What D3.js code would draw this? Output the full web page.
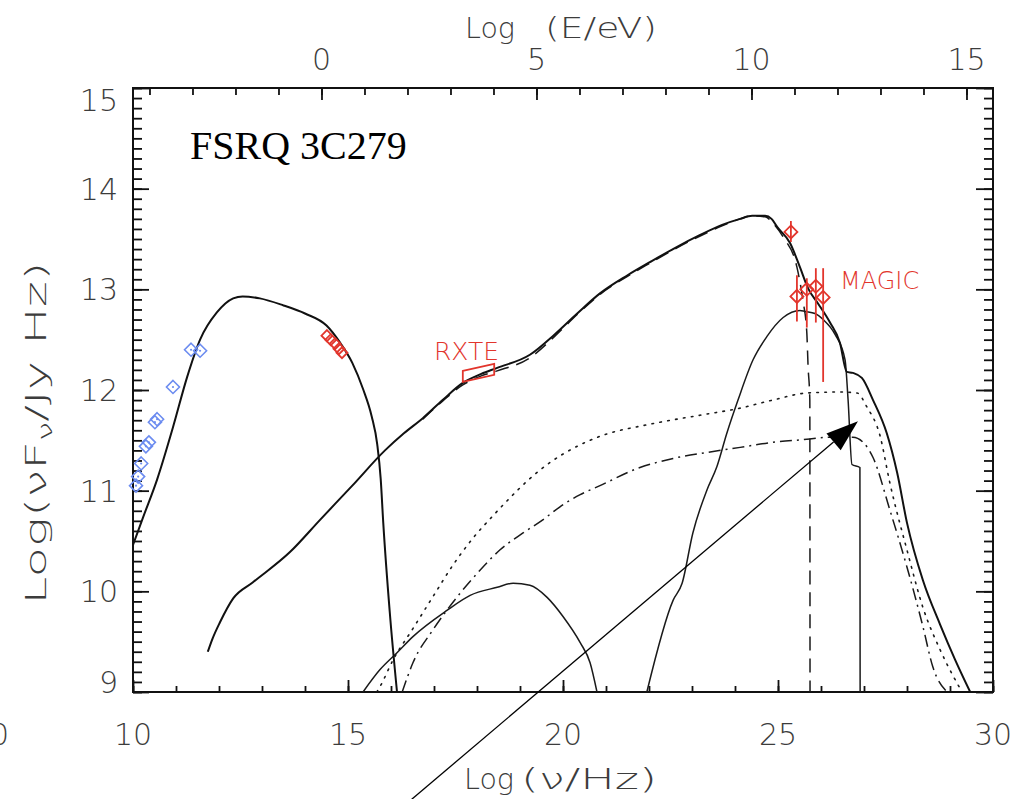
<!DOCTYPE html>
<html>
<head>
<meta charset="utf-8">
<script src="https://cdn.jsdelivr.net/npm/d3@7"></script>
<style>
  html, body { margin: 0; padding: 0; background: #fff; }
  svg { display: block; }
</style>
</head>
<body>
<svg id="chart" width="1018" height="799"></svg>
<script>
// SED of the flat-spectrum radio quasar 3C 279: log(nu F_nu) against log(nu)

// ---- tick labels ----
const nuTickLabels = [10, 15, 20, 25, 30];
const energyTickLabels = [0, 5, 10, 15];
const fluxTickLabels = [9, 10, 11, 12, 13, 14, 15];

// ---- observations ----
// radio / mm (blue)
const radioNu   = [11.35, 11.56, 10.93, 10.56, 10.51, 10.37, 10.30, 10.19, 10.12, 10.07];
const radioFlux = [12.40, 12.39, 12.03, 11.71, 11.68, 11.48, 11.44, 11.27, 11.14, 11.05];
// optical (red)
const opticalNu   = [14.51, 14.60, 14.70, 14.79, 14.86];
const opticalFlux = [12.54, 12.50, 12.46, 12.41, 12.37];
// RXTE bow-tie: edges at two frequencies
const rxteNu   = [17.67, 18.40];
const rxteLow  = [12.08, 12.15];
const rxteHigh = [12.19, 12.26];
// GeV point
const gevNu = [25.30], gevFlux = [13.57], gevHi = [13.68], gevLo = [13.47];
// MAGIC
const magicNu   = [25.44, 25.67, 25.88, 26.05];
const magicFlux = [12.93, 13.00, 13.03, 12.92];
const magicHi   = [13.14, 13.11, 13.21, 13.21];
const magicLo   = [12.68, 12.62, 12.67, 12.08];

// ---- model components [log nu, log nuFnu] ----
const synchrotron = [
  [10.0, 10.46], [10.23, 10.73], [10.56, 11.11], [10.93, 11.63], [11.26, 12.13],
  [11.56, 12.50], [11.95, 12.77], [12.33, 12.91], [12.55, 12.93], [12.95, 12.91],
  [13.5, 12.84], [14.0, 12.76], [14.5, 12.64], [14.8, 12.48], [15.1, 12.27],
  [15.35, 12.01], [15.55, 11.74], [15.68, 11.46], [15.76, 11.12], [15.82, 10.68],
  [15.97, 9.80], [16.14, 9.0]
];
const total = [
  [11.74, 9.40], [11.85, 9.53], [12.02, 9.69], [12.33, 9.93], [12.79, 10.09],
  [13.65, 10.39], [14.35, 10.71], [15.1, 11.05], [15.86, 11.40], [16.3, 11.57],
  [16.74, 11.72], [17.2, 11.90], [17.67, 12.07], [18.1, 12.16], [18.47, 12.22],
  [19.23, 12.35], [19.8, 12.55], [20.33, 12.76], [20.86, 12.96], [21.5, 13.14],
  [22.02, 13.27], [22.6, 13.41], [23.19, 13.54], [23.7, 13.64], [24.12, 13.70],
  [24.4, 13.73], [24.7, 13.73], [24.85, 13.70], [24.98, 13.62], [25.28, 13.46],
  [25.51, 13.22], [25.70, 13.01], [25.93, 12.86], [26.21, 12.67], [26.44, 12.47],
  [26.60, 12.18], [26.74, 12.17], [26.95, 12.12], [27.21, 11.90], [27.53, 11.57],
  [27.77, 11.18], [28.00, 10.68], [28.37, 10.11], [28.77, 9.67], [29.12, 9.32],
  [29.47, 9.0]
];
const externalCompton = [
  [16.74, 11.71], [17.2, 11.89], [17.67, 12.05], [18.1, 12.14], [18.47, 12.19],
  [19.23, 12.32], [19.8, 12.53], [20.33, 12.75], [20.86, 12.95], [21.5, 13.13],
  [22.02, 13.26], [22.6, 13.40], [23.19, 13.53], [23.7, 13.63], [24.12, 13.70],
  [24.4, 13.73], [24.7, 13.72], [24.9, 13.65], [25.12, 13.52], [25.44, 13.22],
  [25.58, 12.89], [25.67, 12.57], [25.70, 12.23], [25.74, 11.90], [25.745, 9.0]
];
const dottedComponent = [
  [15.67, 9.0], [15.74, 9.05], [16.05, 9.32], [16.51, 9.63], [16.98, 9.95],
  [17.44, 10.26], [17.91, 10.53], [18.37, 10.75], [18.77, 10.93], [19.23, 11.12],
  [19.70, 11.28], [20.28, 11.43], [20.86, 11.54], [22.02, 11.66], [23.19, 11.75],
  [24.12, 11.82], [24.88, 11.90], [25.67, 11.97], [26.44, 11.98], [26.84, 11.97],
  [27.07, 11.83], [27.37, 11.55], [27.60, 11.08], [28.00, 10.41], [28.37, 9.84],
  [28.77, 9.42], [29.28, 9.0]
];
const dashDotComponent = [
  [16.26, 9.0], [16.51, 9.29], [16.98, 9.62], [17.53, 9.94], [18.07, 10.21],
  [18.53, 10.41], [19.07, 10.58], [19.53, 10.71], [19.93, 10.84], [20.40, 10.96],
  [20.86, 11.05], [21.79, 11.23], [22.56, 11.32], [23.35, 11.38], [24.12, 11.43],
  [24.88, 11.48], [25.67, 11.51], [26.14, 11.53], [26.74, 11.53], [26.98, 11.48],
  [27.21, 11.33], [27.60, 10.81], [28.00, 10.24], [28.37, 9.65], [28.60, 9.25],
  [28.93, 9.0]
];
const xrayHump = [
  [15.35, 9.0], [15.74, 9.22], [16.14, 9.39], [16.51, 9.55], [17.30, 9.81],
  [17.84, 9.96], [18.47, 10.04], [18.84, 10.08], [19.23, 10.06], [19.63, 9.94],
  [20.0, 9.75], [20.40, 9.49], [20.63, 9.29], [20.79, 9.0]
];
const gammaHump = [
  [21.95, 9.0], [22.56, 9.91], [22.77, 10.08], [23.02, 10.58], [23.35, 11.01],
  [23.58, 11.24], [23.81, 11.57], [24.07, 11.90], [24.42, 12.30], [24.74, 12.53],
  [25.12, 12.72], [25.51, 12.79], [25.63, 12.78], [25.86, 12.76], [26.05, 12.70],
  [26.33, 12.55], [26.56, 12.30], [26.63, 11.90], [26.72, 11.26], [26.905, 11.23],
  [26.91, 9.0]
];
// annotation arrow (tail, head) in data units
const arrowTail = [16.47, 7.93];
const arrowHead = [26.86, 11.69];

// ---- layout ----
const plot = { left: 133, right: 993, top: 88, bottom: 692 };
const LOG_EV_HZ = 14.3834;   // log10 of 1 eV / h in Hz

const svg = d3.select("#chart");
const x = d3.scaleLinear().domain([10, 30]).range([plot.left, plot.right]);
const xE = d3.scaleLinear().domain([10 - LOG_EV_HZ, 30 - LOG_EV_HZ]).range([plot.left, plot.right]);
const y = d3.scaleLinear().domain([9, 15]).range([plot.bottom, plot.top]);

const labelFont = "'DejaVu Sans', sans-serif";
const labelColor = "#3c3c3c";
const red = "#e2352c";
const blue = "#6c8cf0";

svg.append("defs").append("clipPath").attr("id", "plotClip")
  .append("rect")
  .attr("x", plot.left).attr("y", plot.top)
  .attr("width", plot.right - plot.left).attr("height", plot.bottom - plot.top);

// ---- axes (ticks point inward) ----
function styleAxis(g) {
  g.select(".domain").remove();
  g.selectAll(".tick line").attr("stroke", "#111").attr("stroke-width", 1.8);
  g.selectAll(".tick text").remove();
}
const range = (a, b, s) => d3.range(a, b + s / 2, s);

svg.append("g").attr("transform", `translate(0,${plot.bottom})`)
  .call(d3.axisBottom(x).tickValues(range(10, 30, 1)).tickSize(-6)).call(styleAxis);
svg.append("g").attr("transform", `translate(0,${plot.bottom})`)
  .call(d3.axisBottom(x).tickValues(nuTickLabels).tickSize(-12)).call(styleAxis);

svg.append("g").attr("transform", `translate(0,${plot.top})`)
  .call(d3.axisTop(xE).tickValues(range(-4, 15, 1)).tickSize(-7)).call(styleAxis);
svg.append("g").attr("transform", `translate(0,${plot.top})`)
  .call(d3.axisTop(xE).tickValues(energyTickLabels).tickSize(-12)).call(styleAxis);

svg.append("g").attr("transform", `translate(${plot.left},0)`)
  .call(d3.axisLeft(y).tickValues(range(9, 15, 0.1)).tickSize(-9)).call(styleAxis);
svg.append("g").attr("transform", `translate(${plot.left},0)`)
  .call(d3.axisLeft(y).tickValues(fluxTickLabels).tickSize(-16)).call(styleAxis);
svg.append("g").attr("transform", `translate(${plot.right},0)`)
  .call(d3.axisRight(y).tickValues(range(9, 15, 0.1)).tickSize(-9)).call(styleAxis);
svg.append("g").attr("transform", `translate(${plot.right},0)`)
  .call(d3.axisRight(y).tickValues(fluxTickLabels).tickSize(-17)).call(styleAxis);

svg.append("rect")
  .attr("x", plot.left).attr("y", plot.top)
  .attr("width", plot.right - plot.left).attr("height", plot.bottom - plot.top)
  .attr("fill", "none").attr("stroke", "#111").attr("stroke-width", 2);

// ---- tick labels ----
const tickText = (sel) => sel.attr("font-family", labelFont).attr("font-size", 30)
  .attr("font-weight", 200).attr("fill", labelColor);

svg.append("g").selectAll("text").data(nuTickLabels).join("text")
  .attr("x", d => x(d)).attr("y", 745).attr("text-anchor", "middle")
  .text(d => d).call(tickText);

svg.append("g").selectAll("text").data(energyTickLabels).join("text")
  .attr("x", d => xE(d)).attr("y", 70).attr("text-anchor", "middle")
  .text(d => d).call(tickText);

const yMin = d3.min(fluxTickLabels), yMax = d3.max(fluxTickLabels);
svg.append("g").selectAll("text").data(fluxTickLabels).join("text")
  .attr("x", 118)
  .attr("y", d => y(d) + 11 + (d === yMax ? 12 : d === yMin ? -10 : 0))
  .attr("text-anchor", "end")
  .text(d => d).call(tickText);

// stray label at the far left edge (the neighbouring panel's last x label)
svg.append("text").attr("x", -10).attr("y", 745).text("0").call(tickText);

// ---- axis titles ----
const titleText = (sel) => sel.attr("font-family", labelFont).attr("font-size", 29)
  .attr("font-weight", 200).attr("fill", labelColor);

svg.append("text").attr("x", 465).attr("y", 38).text("Log")
  .attr("textLength", 50).attr("lengthAdjust", "spacingAndGlyphs").call(titleText);
svg.append("text").attr("x", 545).attr("y", 38).text("(E/eV)")
  .attr("textLength", 112).attr("lengthAdjust", "spacingAndGlyphs").call(titleText);

svg.append("text").attr("x", 464).attr("y", 789).text("Log")
  .attr("textLength", 50).attr("lengthAdjust", "spacingAndGlyphs").call(titleText);
svg.append("text").attr("x", 521).attr("y", 789).text("(ν/Hz)")
  .attr("textLength", 136).attr("lengthAdjust", "spacingAndGlyphs").call(titleText);

const yTitle = svg.append("text")
  .attr("transform", "translate(46,433) rotate(-90)")
  .attr("text-anchor", "middle")
  .attr("textLength", 343).attr("lengthAdjust", "spacingAndGlyphs")
  .call(titleText);
yTitle.append("tspan").text("Log(νF");
yTitle.append("tspan").attr("font-size", 20).attr("dy", 6).text("ν");
yTitle.append("tspan").attr("dy", -6).text("/Jy Hz)");

// source name
svg.append("text").attr("x", 190).attr("y", 159)
  .attr("font-family", "'Liberation Serif', 'Times New Roman', serif")
  .attr("font-size", 40).attr("fill", "#000").text("FSRQ 3C279");

// ---- model curves ----
const line = d3.line().x(d => x(d[0])).y(d => y(d[1])).curve(d3.curveMonotoneX);
const curves = svg.append("g").attr("clip-path", "url(#plotClip)").attr("fill", "none");

curves.append("path").datum(xrayHump).attr("d", line)
  .attr("stroke", "#1a1a1a").attr("stroke-width", 1.5);
curves.append("path").datum(gammaHump).attr("d", line)
  .attr("stroke", "#1a1a1a").attr("stroke-width", 1.5);
curves.append("path").datum(dottedComponent).attr("d", line)
  .attr("stroke", "#1a1a1a").attr("stroke-width", 1.6)
  .attr("stroke-dasharray", "1.6 6.4").attr("stroke-linecap", "round");
curves.append("path").datum(dashDotComponent).attr("d", line)
  .attr("stroke", "#1a1a1a").attr("stroke-width", 1.5)
  .attr("stroke-dasharray", "12 5 2 5");
curves.append("path").datum(externalCompton).attr("d", line)
  .attr("stroke", "#1a1a1a").attr("stroke-width", 1.5)
  .attr("stroke-dasharray", "14 8");
curves.append("path").datum(synchrotron).attr("d", line)
  .attr("stroke", "#111").attr("stroke-width", 2);
curves.append("path").datum(total).attr("d", line)
  .attr("stroke", "#111").attr("stroke-width", 2);

// ---- data points ----
const diamond = (cx, cy, r) => `M${cx},${cy - r}L${cx + r},${cy}L${cx},${cy + r}L${cx - r},${cy}Z`;
const pts = svg.append("g").attr("fill", "none");

const radio = radioNu.map((n, i) => [n, radioFlux[i]]);
pts.selectAll(".radio").data(radio).join("path").attr("class", "radio")
  .attr("d", d => diamond(x(d[0]), y(d[1]), 6.5))
  .attr("stroke", blue).attr("stroke-width", 1.6);
pts.selectAll(".radiodot").data(radio).join("circle").attr("class", "radiodot")
  .attr("cx", d => x(d[0])).attr("cy", d => y(d[1])).attr("r", 1.1).attr("fill", blue);

const optical = opticalNu.map((n, i) => [n, opticalFlux[i]]);
pts.selectAll(".opt").data(optical).join("path").attr("class", "opt")
  .attr("d", d => diamond(x(d[0]), y(d[1]), 5.5))
  .attr("stroke", red).attr("stroke-width", 1.8);

pts.append("path")
  .attr("d", `M${x(rxteNu[0])},${y(rxteHigh[0])}L${x(rxteNu[1])},${y(rxteHigh[1])}` +
             `L${x(rxteNu[1])},${y(rxteLow[1])}L${x(rxteNu[0])},${y(rxteLow[0])}Z`)
  .attr("stroke", red).attr("stroke-width", 1.8);

const gamma = gevNu.map((n, i) => ({ nu: n, f: gevFlux[i], hi: gevHi[i], lo: gevLo[i] }))
  .concat(magicNu.map((n, i) => ({ nu: n, f: magicFlux[i], hi: magicHi[i], lo: magicLo[i] })));
pts.selectAll(".err").data(gamma).join("line").attr("class", "err")
  .attr("x1", d => x(d.nu)).attr("x2", d => x(d.nu))
  .attr("y1", d => y(d.hi)).attr("y2", d => y(d.lo))
  .attr("stroke", red).attr("stroke-width", 1.8);
pts.selectAll(".gam").data(gamma).join("path").attr("class", "gam")
  .attr("d", d => diamond(x(d.nu), y(d.f), 6.5))
  .attr("stroke", red).attr("stroke-width", 1.8);

// instrument labels
svg.append("text").attr("x", 434).attr("y", 360).text("RXTE")
  .attr("font-family", labelFont).attr("font-size", 25).attr("font-weight", 200).attr("fill", red);
svg.append("text").attr("x", 840).attr("y", 289).text("MAGIC")
  .attr("font-family", labelFont).attr("font-size", 24).attr("font-weight", 200).attr("fill", red);

// ---- annotation arrow ----
const tx = x(arrowTail[0]), ty = y(arrowTail[1]);
const hx = x(arrowHead[0]), hy = y(arrowHead[1]);
const len = Math.hypot(tx - hx, ty - hy);
const ux = (tx - hx) / len, uy = (ty - hy) / len;
const headLen = 32, headHalf = 11;
const bx = hx + ux * headLen, by = hy + uy * headLen;
svg.append("line")
  .attr("x1", tx).attr("y1", ty).attr("x2", bx).attr("y2", by)
  .attr("stroke", "#000").attr("stroke-width", 1.3);
svg.append("path")
  .attr("d", `M${hx},${hy}L${bx - uy * headHalf},${by + ux * headHalf}L${bx + uy * headHalf},${by - ux * headHalf}Z`)
  .attr("fill", "#000");
</script>
</body>
</html>
